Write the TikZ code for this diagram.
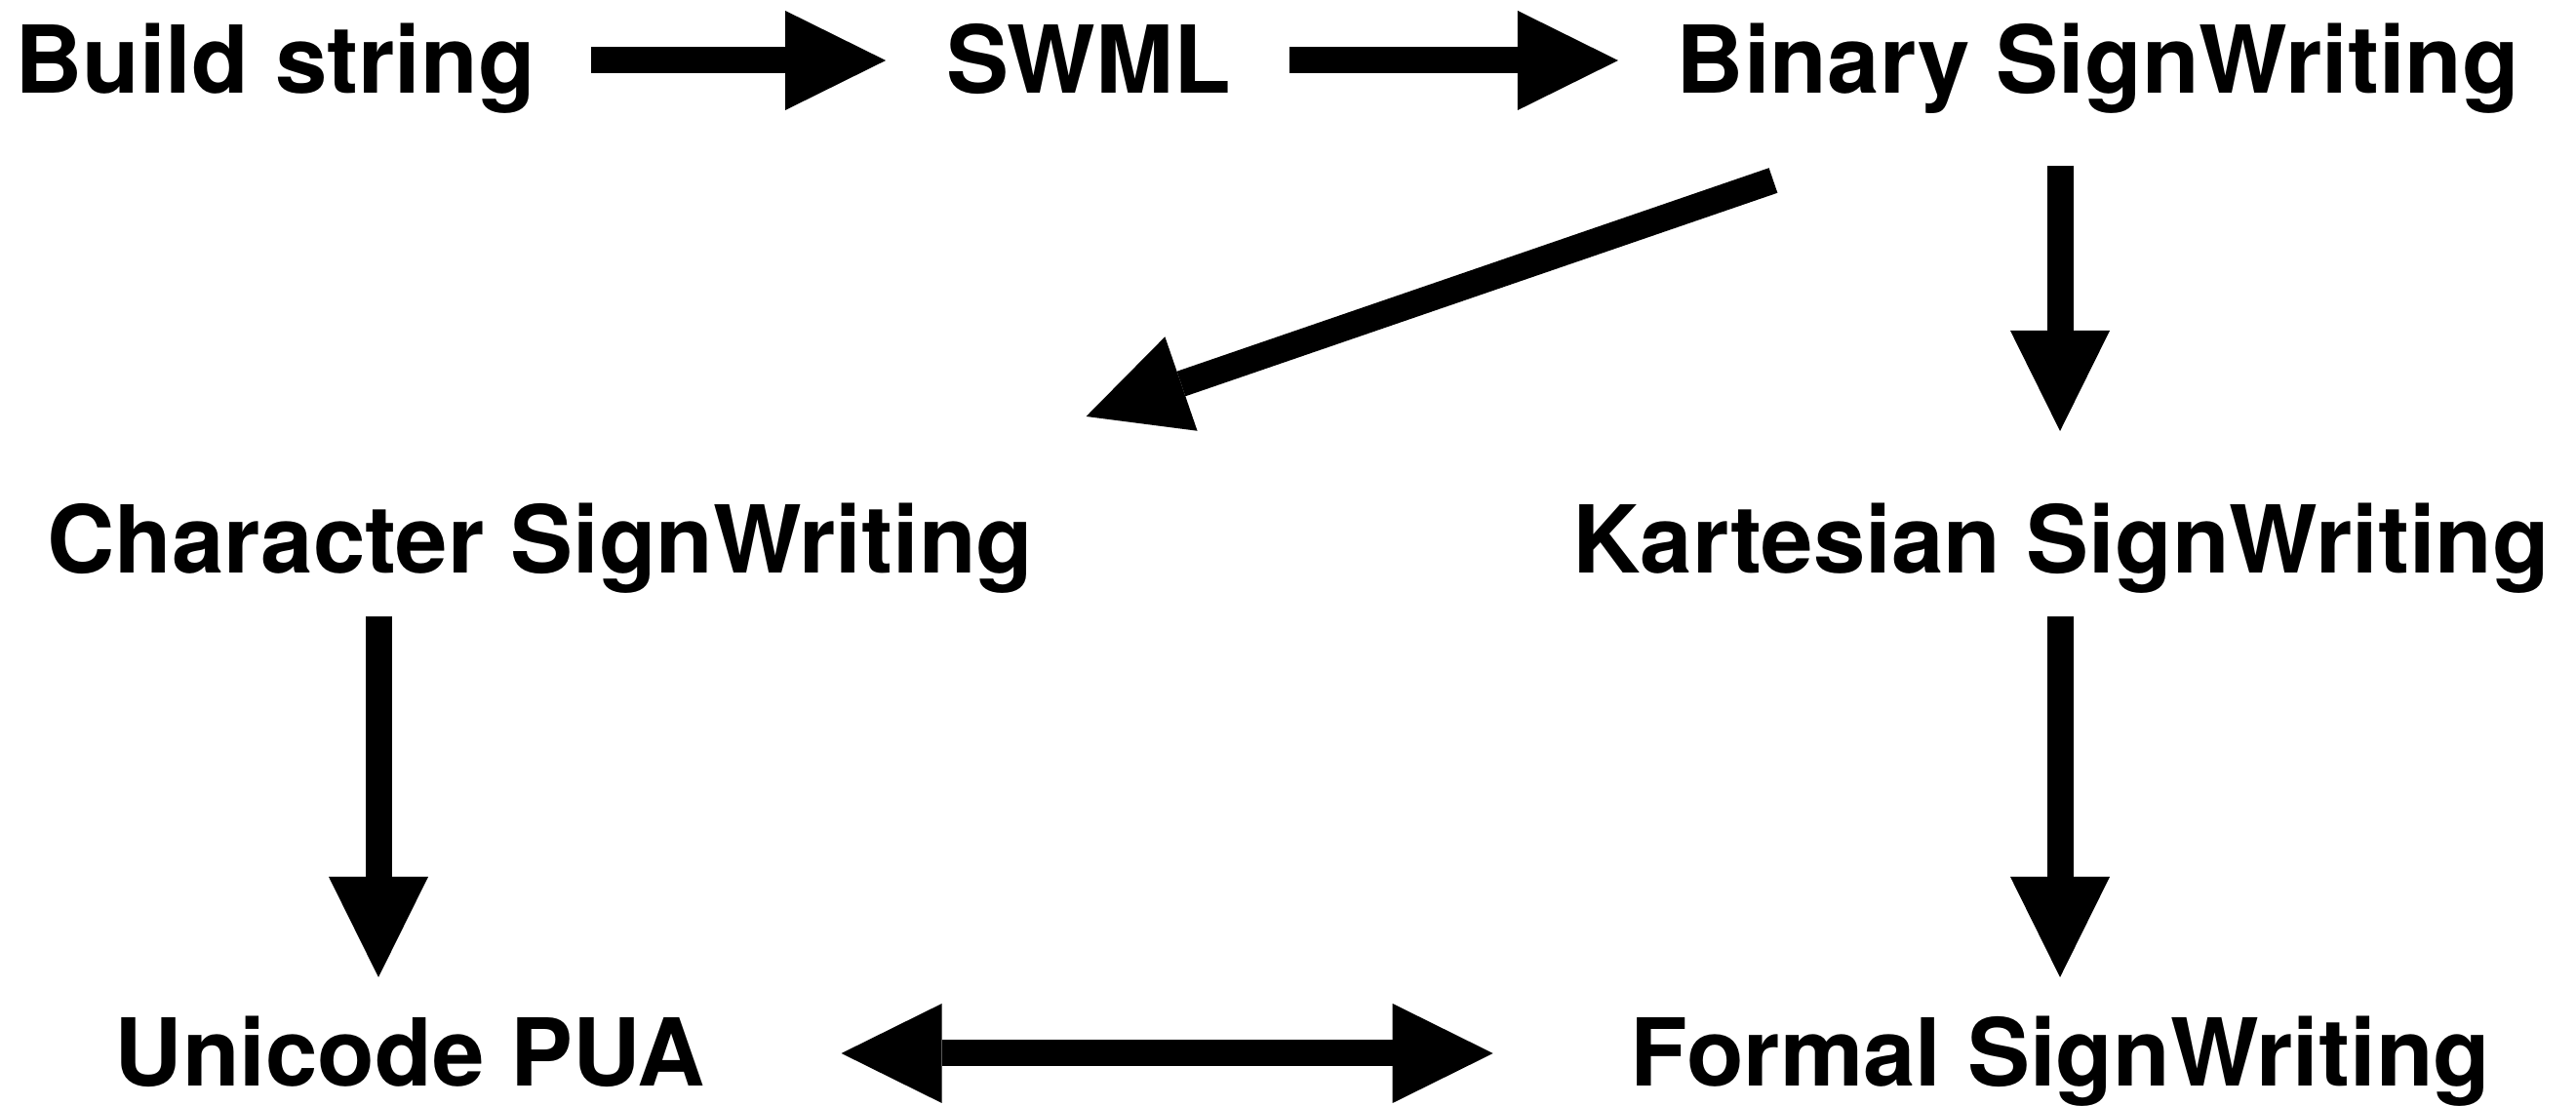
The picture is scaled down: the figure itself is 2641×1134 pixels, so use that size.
\documentclass[tikz,border=0pt]{standalone}
\usepackage{fontspec}
\setmainfont{TeX Gyre Heros}
\usetikzlibrary{arrows.meta,calc}
\tikzset{
  lbl/.style={inner sep=0pt, outer sep=0pt, text height=89pt, text depth=21pt,
    anchor=base, font=\fontsize{96pt}{115pt}\selectfont\bfseries},
  arr/.style={line width=27pt, -{Triangle[length=103pt,width=102pt,line width=0pt]}},
  darr/.style={line width=27pt, {Triangle[length=103pt,width=102pt,line width=0pt]}-{Triangle[length=103pt,width=102pt,line width=0pt]}}
}
\begin{document}
\begin{tikzpicture}[x=1pt,y=1pt]
\useasboundingbox (0,0) rectangle (2641,1134);
% nodes (y = 1134 - image baseline)
\node[lbl] (build) at (282,1038) {Build string};
\node[lbl] (swml) at (1116,1038) {SWML};
\node[lbl] (binary) at (2151,1038) {Binary SignWriting};
\node[lbl] (char) at (554,546) {Character SignWriting};
\node[lbl] (kart) at (2113.5,546) {Kartesian SignWriting};
\node[lbl] (uni) at (420,20) {Unicode PUA};
\node[lbl] (formal) at (2112.5,20) {Formal SignWriting};
% connectors
\draw[arr, shorten <=57pt, shorten >=62pt] (build.east) -- (swml.west);
\draw[arr, shorten <=60pt, shorten >=60pt] (swml.east) -- (binary.west);
\draw[arr] ([shift={(99pt,-68pt)}]binary.south west) -- ([shift={(54pt,72pt)}]char.north east);
\draw[arr, shorten <=53pt, shorten >=57pt] ([xshift=-1.5pt]kart.north |- binary.south) -- ([xshift=-1.5pt]kart.north);
\draw[arr, shorten <=23pt, shorten >=23pt] ([xshift=-1.5pt]kart.south) -- ([xshift=-1.5pt]kart.south |- formal.north);
\draw[arr, shorten <=23pt, shorten >=23pt] ([xshift=-32pt]uni.north |- char.south) -- ([xshift=-32pt]uni.north);
\draw[darr, shorten <=140pt, shorten >=141pt] (uni.east) -- (formal.west);
\end{tikzpicture}
\end{document}
